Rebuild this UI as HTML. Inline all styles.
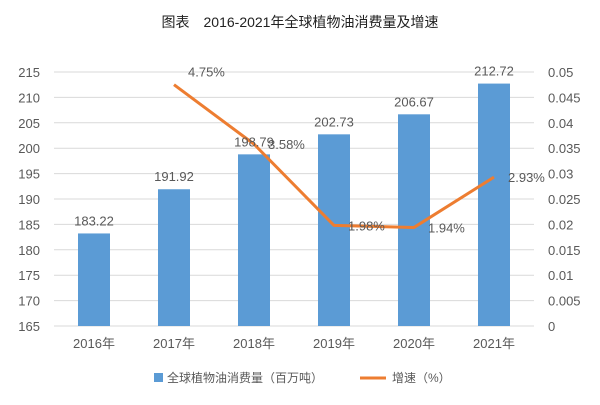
<!DOCTYPE html>
<html><head><meta charset="utf-8"><style>
body{margin:0;background:#fff;}
svg text{font-family:"Liberation Sans","Noto Sans CJK SC",sans-serif;fill:#595959;}
</style></head><body>
<svg id="chart" width="600" height="400" xmlns="http://www.w3.org/2000/svg">
<text x="300" y="27" text-anchor="middle" font-size="14" style="fill:#222">图表　2016-2021年全球植物油消费量及增速</text>
<g id="grid"></g><g id="bars"></g><g id="line"></g><g id="labels"></g><g id="axes"></g>
<g>
<rect x="154" y="373" width="9" height="9" fill="#5B9BD5"/>
<text x="167" y="382" font-size="12">全球植物油消费量（百万吨）</text>
<line x1="360" y1="378" x2="386" y2="378" stroke="#ED7D31" stroke-width="3"/>
<text x="392" y="382" font-size="12">增速（%）</text>
</g>
</svg>
<script>
const categories=["2016年","2017年","2018年","2019年","2020年","2021年"];
const consumption=[183.22,191.92,198.79,202.73,206.67,212.72];
const growth=[null,0.0475,0.0358,0.0198,0.0194,0.0293];
const growthLabels=["","4.75%","3.58%","1.98%","1.94%","2.93%"];
const leftTicks=[165,170,175,180,185,190,195,200,205,210,215];
const rightTicks=["0","0.005","0.01","0.015","0.02","0.025","0.03","0.035","0.04","0.045","0.05"];
const NS="http://www.w3.org/2000/svg";
const plotTop=72,plotBot=326,plotLeft=54,plotRight=534;
const yL=v=>plotBot-(v-165)/50*(plotBot-plotTop);
const yR=v=>plotBot-v/0.05*(plotBot-plotTop);
const band=(plotRight-plotLeft)/categories.length;
const xC=i=>plotLeft+band*(i+0.5);
function mk(tag,attrs,parent,txt){const e=document.createElementNS(NS,tag);for(const k in attrs)e.setAttribute(k,attrs[k]);if(txt!==undefined)e.textContent=txt;document.getElementById(parent).appendChild(e);return e;}
leftTicks.forEach((t,i)=>{
 const g=mk("line",{x1:plotLeft,x2:plotRight,y1:yL(t),y2:yL(t),stroke:"#d9d9d9","stroke-width":1},"grid");
 
 
 const a=mk("text",{x:40,y:yL(t)+5,"text-anchor":"end","font-size":13},"axes",String(t));
 
 
 const r=mk("text",{x:548,y:yL(t)+5,"font-size":13},"axes",rightTicks[i]);
 
 
});
categories.forEach((c,i)=>{
 const x=mk("text",{x:xC(i),y:348,"text-anchor":"middle","font-size":13},"axes",c);
 
 
 const h=plotBot-yL(consumption[i]);
 const b=mk("rect",{x:xC(i)-16,y:yL(consumption[i]),width:32,height:h,fill:"#5B9BD5"},"bars");
 
 
 const l=mk("text",{x:xC(i),y:yL(consumption[i])-8,"text-anchor":"middle","font-size":13},"labels",consumption[i].toFixed(2));
 
 
});
let d="";
growth.forEach((v,i)=>{if(v===null)return;d+=(d?"L":"M")+xC(i)+" "+yR(v);
 const t=mk("text",{x:xC(i)+14,y:yR(v)+(i===1?-8:5),"font-size":13},"labels",growthLabels[i]);
 
 
});
const p=mk("path",{d:d,fill:"none",stroke:"#ED7D31","stroke-width":3,"stroke-linejoin":"round"},"line");


</script>
</body></html>
